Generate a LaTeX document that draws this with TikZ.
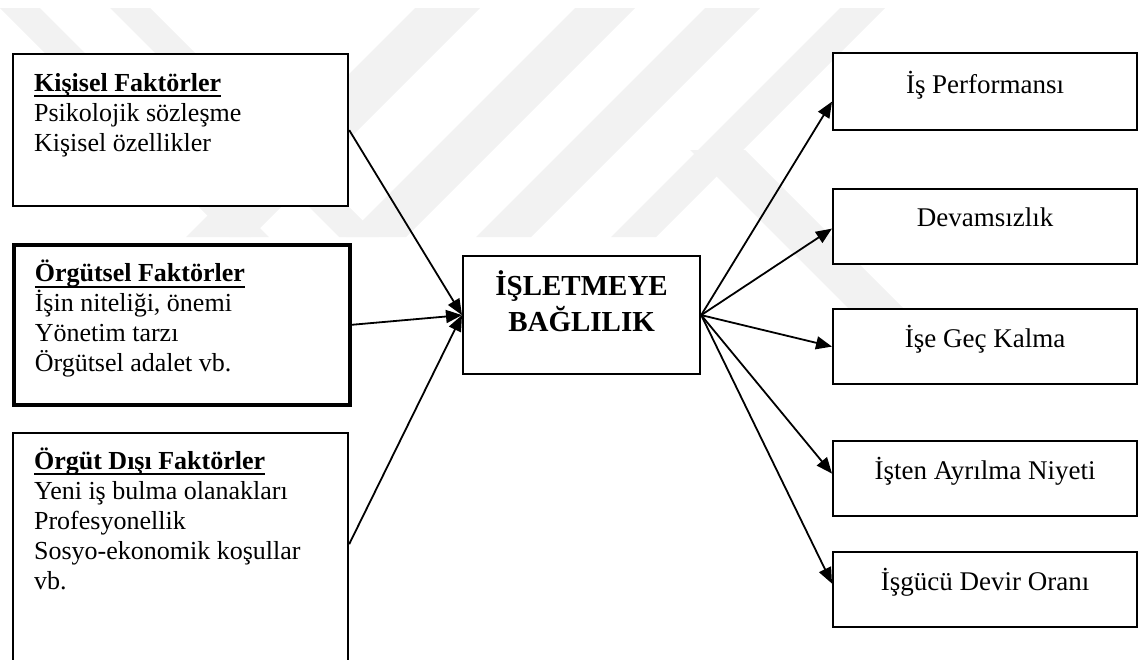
\documentclass[tikz,border=0pt]{standalone}
\usepackage{fontspec}
\setmainfont{Liberation Serif}
\usepackage{tikz}
\usetikzlibrary{arrows.meta,positioning,calc}
\definecolor{filigran}{RGB}{242,242,242}
\newcommand{\altciz}[1]{\setbox0\hbox{#1}\rlap{\rule[-3pt]{\wd0}{1.1pt}}\box0}

\tikzset{
    kutu/.style={draw, fill=white, line width=1.1pt, inner sep=0pt, anchor=north west,
        font=\fontsize{13}{15}\selectfont},
    sonuc/.style={kutu, font=\fontsize{13.5}{15}\selectfont},
    ok/.style={-{Triangle[length=8pt,width=6.5pt]}, line width=0.9pt},
}

\begin{document}
\begin{tikzpicture}[x=0.5pt, y=-0.5pt]
    \useasboundingbox (0,0) rectangle (1138,659);
    \clip (0,0) rectangle (1138,659);
    % faint background watermark
    \foreach \a/\b in {415/480, 575/635, 705/760, 840/885}
        \fill[filigran] (\a,8) -- (\b,8) -- (\b-229,237) -- (\a-229,237) -- cycle;
    \foreach \a/\b in {0/40, 110/150}
        \fill[filigran] (\a,8) -- (\b,8) -- (\b+229,237) -- (\a+229,237) -- cycle;
    \fill[filigran] (690,150) -- (745,150) -- (925,330) -- (870,330) -- cycle;

    % left: factors
    \node[kutu, inner xsep=10.5pt] (kisisel) at (12,53) {\parbox[t][76pt][t]{146.5pt}{\raggedright
        \rule{0pt}{18.5pt}\altciz{\textbf{Kişisel Faktörler}}\\ Psikolojik sözleşme\\ Kişisel özellikler}};
    \node[kutu, line width=1.8pt, inner xsep=10.5pt] (orgutsel) at (12,243) {\parbox[t][80pt][t]{147pt}{\raggedright
        \rule{0pt}{18.5pt}\altciz{\textbf{Örgütsel Faktörler}}\\ İşin niteliği, önemi\\ Yönetim tarzı\\ Örgütsel adalet vb.}};
    \node[kutu, inner xsep=10.5pt] (orgutdisi) at (12,432) {\parbox[t][120pt][t]{146.5pt}{\raggedright
        \rule{0pt}{18pt}\altciz{\textbf{Örgüt Dışı Faktörler}}\\ Yeni iş bulma olanakları\\ Profesyonellik\\ Sosyo-ekonomik koşullar\\ vb.}};

    % centre
    \node[kutu] (baglilik) at (462,255) {\parbox[t][59pt][t]{118.5pt}{\centering
        \fontsize{14.5}{18}\selectfont\bfseries\rule{0pt}{19.5pt}İŞLETMEYE\\ BAĞLILIK}};

    % right: outcomes
    \node[sonuc] (performans) at (832,52) {\parbox[t][38.5pt][t]{152pt}{\centering\rule{0pt}{20pt}İş Performansı}};
    \node[sonuc] (devamsizlik) at (832,188) {\parbox[t][37.5pt][t]{152pt}{\centering\rule{0pt}{18.5pt}Devamsızlık}};
    \node[sonuc] (geckalma) at (832,308) {\parbox[t][37.5pt][t]{152pt}{\centering\rule{0pt}{19pt}İşe Geç Kalma}};
    \node[sonuc] (ayrilma) at (832,440) {\parbox[t][37.5pt][t]{152pt}{\centering\rule{0pt}{19pt}İşten Ayrılma Niyeti}};
    \node[sonuc] (devir) at (832,551) {\parbox[t][37.5pt][t]{152pt}{\centering\rule{0pt}{19pt}İşgücü Devir Oranı}};

    \draw[ok] (kisisel.east) -- (baglilik.west);
    \draw[ok] (orgutsel.east) -- (baglilik.west);
    \draw[ok] ([yshift=4.5pt]orgutdisi.east) -- (baglilik.west);
    \draw[ok] (baglilik.east) -- ([yshift=-5pt]performans.west);
    \draw[ok] (baglilik.east) -- ([yshift=-1pt]devamsizlik.west);
    \draw[ok] (baglilik.east) -- (geckalma.west);
    \draw[ok] (baglilik.east) -- ([yshift=2.5pt]ayrilma.west);
    \draw[ok] (baglilik.east) -- ([yshift=3pt]devir.west);
\end{tikzpicture}
\end{document}
